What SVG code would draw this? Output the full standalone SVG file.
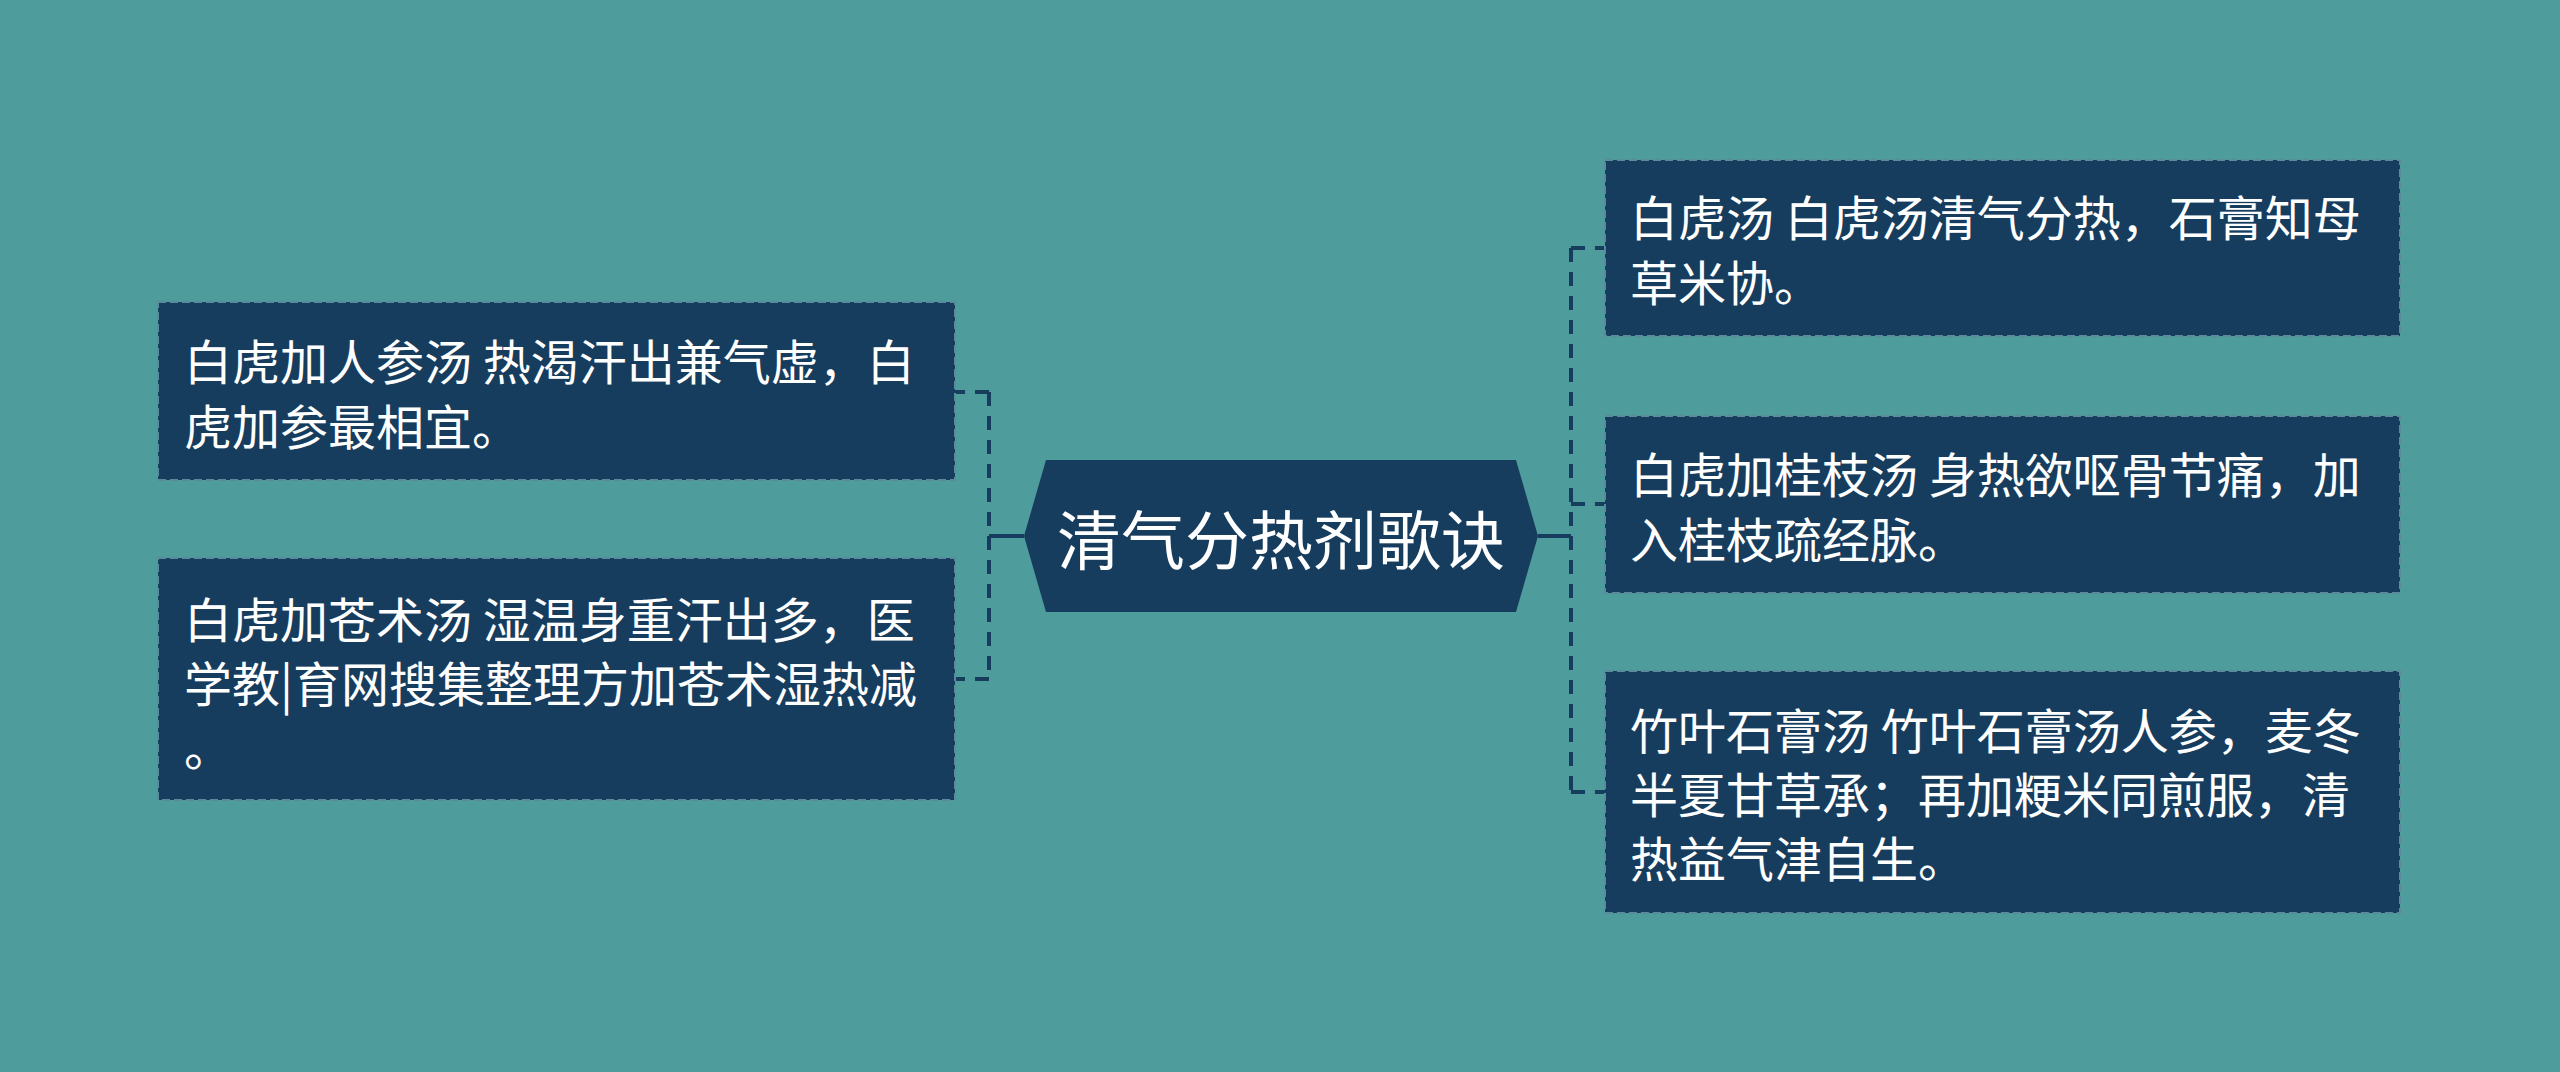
<svg xmlns="http://www.w3.org/2000/svg" width="2560" height="1072" viewBox="0 0 2560 1072">
<style>
.bg{fill:#4e9c9c}
.box{fill:#173d5e;stroke:#5b8a9c;stroke-width:2;stroke-dasharray:8 4}
.t{fill:#ffffff;font-family:"Noto Sans CJK SC","Noto Sans",sans-serif;font-size:48px;dominant-baseline:central}
.title{fill:#ffffff;font-family:"Noto Sans CJK SC","Noto Sans",sans-serif;font-size:64px;dominant-baseline:central;text-anchor:middle}
.solid{stroke:#173d5e;stroke-width:4;fill:none}
.dash{stroke:#173d5e;stroke-width:4;fill:none;stroke-dasharray:14 10}
</style>
<rect class="bg" x="0" y="0" width="2560" height="1072"/>
<g id="connectors">
<line class="solid" x1="1024" y1="536" x2="989" y2="536"/>
<line class="dash" x1="989" y1="392" x2="989" y2="679"/>
<line class="dash" x1="989" y1="392" x2="955" y2="392"/>
<line class="dash" x1="989" y1="679" x2="955" y2="679"/>
<line class="solid" x1="1538" y1="536" x2="1571" y2="536"/>
<line class="dash" x1="1571" y1="248" x2="1571" y2="792"/>
<line class="dash" x1="1571" y1="248" x2="1605" y2="248"/>
<line class="dash" x1="1571" y1="504" x2="1605" y2="504"/>
<line class="dash" x1="1571" y1="792" x2="1605" y2="792"/>
</g>
<g id="center">
<polygon points="1024,536 1046,460 1516,460 1538,536 1516,612 1046,612" fill="#173d5e"/>
<text class="title" x="1281" y="536">清气分热剂歌诀</text>
</g>
<g id="left1">
<rect class="box" x="158" y="302" width="797" height="178"/>
<text class="t" x="184" y="359">白虎加人参汤 热渴汗出兼气虚，白</text>
<text class="t" x="184" y="424">虎加参最相宜。</text>
</g>
<g id="left2">
<rect class="box" x="158" y="558" width="797" height="242"/>
<text class="t" x="184" y="617">白虎加苍术汤 湿温身重汗出多，医</text>
<text class="t" x="184" y="681">学教|育网搜集整理方加苍术湿热减</text>
<text class="t" x="184" y="745">。</text>
</g>
<g id="right1">
<rect class="box" x="1605" y="160" width="795" height="176"/>
<text class="t" x="1630" y="215">白虎汤 白虎汤清气分热，石膏知母</text>
<text class="t" x="1630" y="280">草米协。</text>
</g>
<g id="right2">
<rect class="box" x="1605" y="416" width="795" height="177"/>
<text class="t" x="1630" y="472">白虎加桂枝汤 身热欲呕骨节痛，加</text>
<text class="t" x="1630" y="537">入桂枝疏经脉。</text>
</g>
<g id="right3">
<rect class="box" x="1605" y="671" width="795" height="242"/>
<text class="t" x="1630" y="728">竹叶石膏汤 竹叶石膏汤人参，麦冬</text>
<text class="t" x="1630" y="792">半夏甘草承；再加粳米同煎服，清</text>
<text class="t" x="1630" y="856">热益气津自生。</text>
</g>
</svg>
